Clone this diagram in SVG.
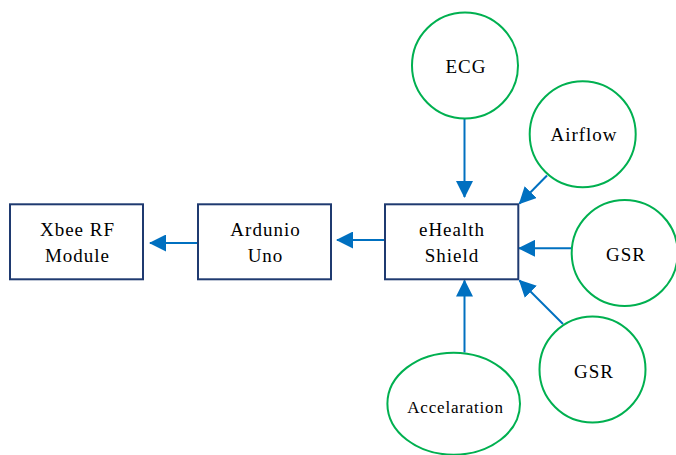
<svg xmlns="http://www.w3.org/2000/svg" width="676" height="455" viewBox="0 0 676 455">
<style>
.box{fill:#fff;stroke:#1F3A70;stroke-width:2}
.circ{fill:#fff;stroke:#00B050;stroke-width:2}
.lbl{font-family:"Liberation Serif","Times New Roman",serif;font-size:19px;letter-spacing:1px;fill:#000;text-anchor:middle}
.small{font-size:17px;letter-spacing:0.8px}
.conn{stroke:#0070C0;stroke-width:2;fill:none;marker-end:url(#arr)}
</style>
<defs>
<marker id="arr" markerUnits="userSpaceOnUse" markerWidth="17" markerHeight="17" viewBox="0 0 17 17" refX="16" refY="8.5" orient="auto">
<path d="M0,0 L17,8.5 L0,17 z" fill="#0070C0"/>
</marker>
</defs>
<rect width="676" height="455" fill="#fff"/>
<g id="connectors">
<line class="conn" x1="464.5" y1="118.5" x2="464.5" y2="197"/>
<line class="conn" x1="547" y1="175.5" x2="519.5" y2="203.5"/>
<line class="conn" x1="571.5" y1="248.3" x2="519" y2="248.3"/>
<line class="conn" x1="563" y1="324" x2="519.5" y2="280.5"/>
<line class="conn" x1="464.5" y1="352.5" x2="464.5" y2="280.5"/>
<line class="conn" x1="385" y1="240" x2="337" y2="240"/>
<line class="conn" x1="198" y1="243" x2="150" y2="243"/>
</g>
<g id="xbee">
<rect class="box" x="10" y="204.3" width="133" height="75"/>
<text class="lbl" x="77.5" y="236">Xbee RF</text>
<text class="lbl" x="77.5" y="262">Module</text>
</g>
<g id="ardunio">
<rect class="box" x="198" y="204.3" width="133" height="75"/>
<text class="lbl" x="265.5" y="236">Ardunio</text>
<text class="lbl" x="265.5" y="262">Uno</text>
</g>
<g id="ehealth">
<rect class="box" x="385" y="204.3" width="133.3" height="75"/>
<text class="lbl" x="452" y="236">eHealth</text>
<text class="lbl" x="452" y="262">Shield</text>
</g>
<g id="ecg">
<circle class="circ" cx="465" cy="65.5" r="53"/>
<text class="lbl" x="466" y="73">ECG</text>
</g>
<g id="airflow">
<circle class="circ" cx="582.7" cy="134.2" r="53"/>
<text class="lbl" x="584" y="141">Airflow</text>
</g>
<g id="gsr1">
<circle class="circ" cx="624.7" cy="253" r="53"/>
<text class="lbl" x="626" y="261">GSR</text>
</g>
<g id="gsr2">
<circle class="circ" cx="592.5" cy="369.5" r="53"/>
<text class="lbl" x="594" y="378">GSR</text>
</g>
<g id="accelaration">
<ellipse class="circ" cx="453.7" cy="403.7" rx="66.3" ry="51"/>
<text class="lbl small" x="455.5" y="413">Accelaration</text>
</g>
</svg>
